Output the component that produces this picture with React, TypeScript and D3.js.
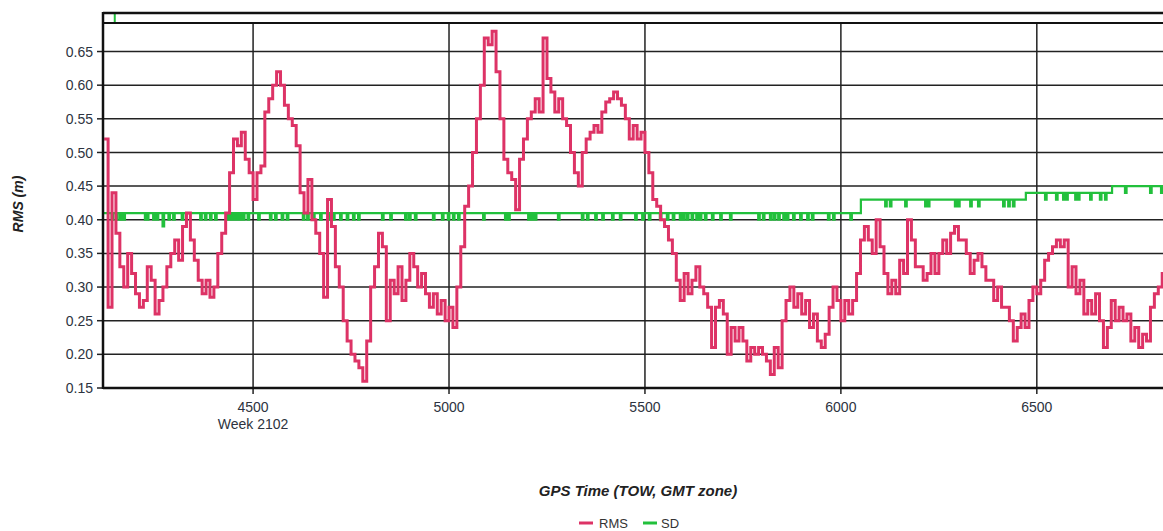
import React from "react";
import * as d3 from "d3";

const W = 1163;
const H = 531;

// ---- data ----
const xTicks = [4500, 5000, 5500, 6000, 6500];
const yTicks = [0.15, 0.2, 0.25, 0.3, 0.35, 0.4, 0.45, 0.5, 0.55, 0.6, 0.65];
const weekLabel = "Week 2102";
const weekTickTow = 4500;

const rmsStartTow = 4120;
const rmsStepTow = 10;
const rmsValues = [
  0.52, 0.27, 0.44, 0.38, 0.33, 0.30, 0.35, 0.32, 0.29, 0.27,
  0.28, 0.33, 0.31, 0.26, 0.28, 0.30, 0.33, 0.35, 0.37, 0.34,
  0.39, 0.41, 0.37, 0.34, 0.31, 0.29, 0.31, 0.285, 0.30, 0.35,
  0.38, 0.41, 0.47, 0.52, 0.51, 0.53, 0.49, 0.47, 0.43, 0.47,
  0.48, 0.56, 0.58, 0.60, 0.62, 0.60, 0.57, 0.55, 0.54, 0.51,
  0.44, 0.41, 0.46, 0.40, 0.38, 0.35, 0.285, 0.43, 0.39, 0.33,
  0.30, 0.25, 0.22, 0.20, 0.19, 0.18, 0.16, 0.22, 0.30, 0.33,
  0.38, 0.36, 0.25, 0.31, 0.29, 0.33, 0.28, 0.31, 0.35, 0.33,
  0.30, 0.32, 0.29, 0.27, 0.29, 0.26, 0.28, 0.25, 0.27, 0.24,
  0.30, 0.36, 0.42, 0.45, 0.50, 0.55, 0.60, 0.67, 0.66, 0.68,
  0.62, 0.55, 0.49, 0.47, 0.46, 0.415, 0.49, 0.52, 0.55, 0.56,
  0.58, 0.56, 0.67, 0.61, 0.59, 0.56, 0.58, 0.55, 0.54, 0.50,
  0.47, 0.45, 0.50, 0.52, 0.53, 0.54, 0.53, 0.56, 0.575, 0.58,
  0.59, 0.58, 0.57, 0.55, 0.52, 0.54, 0.52, 0.53, 0.50, 0.47,
  0.43, 0.42, 0.40, 0.39, 0.37, 0.35, 0.31, 0.28, 0.32, 0.29,
  0.31, 0.33, 0.30, 0.29, 0.27, 0.21, 0.27, 0.28, 0.26, 0.20,
  0.24, 0.22, 0.24, 0.22, 0.19, 0.21, 0.20, 0.21, 0.20, 0.19,
  0.17, 0.21, 0.18, 0.25, 0.28, 0.30, 0.27, 0.29, 0.26, 0.28,
  0.24, 0.26, 0.22, 0.21, 0.23, 0.27, 0.30, 0.28, 0.25, 0.28,
  0.26, 0.28, 0.32, 0.37, 0.39, 0.37, 0.35, 0.40, 0.36, 0.32,
  0.29, 0.31, 0.29, 0.34, 0.32, 0.40, 0.37, 0.33, 0.33, 0.31,
  0.32, 0.35, 0.32, 0.35, 0.37, 0.35, 0.38, 0.39, 0.37, 0.37,
  0.35, 0.32, 0.34, 0.35, 0.33, 0.31, 0.31, 0.28, 0.30, 0.27,
  0.27, 0.25, 0.22, 0.24, 0.26, 0.24, 0.28, 0.30, 0.29, 0.31,
  0.34, 0.35, 0.36, 0.37, 0.36, 0.37, 0.30, 0.33, 0.29, 0.31,
  0.26, 0.28, 0.26, 0.29, 0.25, 0.21, 0.24, 0.28, 0.25, 0.27,
  0.25, 0.26, 0.22, 0.24, 0.21, 0.23, 0.22, 0.27, 0.29, 0.30,
  0.32, 0.31,
];

// SD: base levels (step changes) and short dips
const sdLevelTow = [4117, 6051, 6472, 6692];
const sdLevelVal = [0.41, 0.43, 0.44, 0.45];
const sdDips: [number, number][] = [
  [4139, 0.40], [4150, 0.40], [4160, 0.40], [4169, 0.40], [4224, 0.40], [4229, 0.40],
  [4245, 0.40], [4254, 0.40], [4269, 0.39], [4284, 0.40], [4296, 0.40], [4318, 0.40],
  [4365, 0.40], [4377, 0.40], [4390, 0.40], [4403, 0.40], [4433, 0.40], [4440, 0.40],
  [4449, 0.40], [4456, 0.40], [4465, 0.40], [4474, 0.40], [4486, 0.40], [4513, 0.40],
  [4543, 0.40], [4556, 0.40], [4573, 0.40], [4586, 0.40], [4627, 0.40], [4638, 0.40],
  [4653, 0.40], [4671, 0.40], [4696, 0.40], [4704, 0.40], [4722, 0.40], [4739, 0.40],
  [4755, 0.40], [4768, 0.40], [4829, 0.40], [4850, 0.40], [4888, 0.40], [4898, 0.40],
  [4913, 0.40], [4959, 0.40], [4982, 0.40], [4997, 0.40], [5010, 0.40], [5023, 0.40],
  [5087, 0.40], [5143, 0.40], [5151, 0.40], [5202, 0.40], [5210, 0.40], [5219, 0.40],
  [5278, 0.40], [5339, 0.40], [5352, 0.40], [5373, 0.40], [5391, 0.40], [5416, 0.40],
  [5436, 0.40], [5475, 0.40], [5493, 0.40], [5510, 0.40], [5538, 0.40], [5556, 0.40],
  [5571, 0.40], [5589, 0.40], [5597, 0.40], [5607, 0.40], [5619, 0.40], [5631, 0.40],
  [5640, 0.40], [5653, 0.40], [5671, 0.40], [5692, 0.40], [5717, 0.40], [5789, 0.40],
  [5801, 0.40], [5819, 0.40], [5829, 0.40], [5840, 0.40], [5853, 0.40], [5862, 0.40],
  [5878, 0.40], [5896, 0.40], [5914, 0.40], [5926, 0.40], [5967, 0.40], [5980, 0.40],
  [6024, 0.40],
  [6113, 0.42], [6125, 0.42], [6164, 0.42], [6215, 0.42], [6222, 0.42], [6291, 0.42],
  [6299, 0.42], [6330, 0.42], [6350, 0.42], [6414, 0.42], [6427, 0.42], [6439, 0.42],
  [6521, 0.43], [6549, 0.43], [6567, 0.43], [6575, 0.43], [6598, 0.43], [6605, 0.43],
  [6636, 0.43], [6661, 0.43], [6674, 0.43],
  [6725, 0.44], [6789, 0.44], [6817, 0.44],
];
const sdDipWidth = 4;
const sdOutlierTow = 4147;

const seriesNames = ["RMS", "SD"];
const seriesColors = ["#dd3366", "#22c03c"];

// ---- layout ----
const plotLeft = 103;
const plotRight = 1163;
const plotTop = 23;
const frameTop = 13;
const plotBottom = 388;

const font = "Arial, 'Liberation Sans', Helvetica, sans-serif";

export default function App() {
  const x = d3.scaleLinear().domain([4117, 6822]).range([plotLeft, plotRight]);
  const y = d3.scaleLinear().domain([0.15, 0.6924]).range([plotBottom, plotTop]);

  const rmsPts: [number, number][] = rmsValues.map((v, i) => [rmsStartTow + i * rmsStepTow, v]);

  const levelAt = (t: number) => {
    let v = sdLevelVal[0];
    for (let k = 0; k < sdLevelTow.length; k++) if (t >= sdLevelTow[k]) v = sdLevelVal[k];
    return v;
  };
  const events: [number, number][] = [];
  sdLevelTow.forEach((t, k) => events.push([t, sdLevelVal[k]]));
  sdDips.forEach(([t, v]) => {
    events.push([t, v]);
    events.push([t + sdDipWidth, levelAt(t + sdDipWidth)]);
  });
  events.sort((a, b) => a[0] - b[0]);
  const sdPts: [number, number][] = [...events, [6830, levelAt(6830)]];

  const line = d3
    .line<[number, number]>()
    .x((d) => x(d[0]))
    .y((d) => y(d[1]))
    .curve(d3.curveStepAfter);

  const rmsPath = line(rmsPts) || "";
  const sdPath = line(sdPts) || "";

  return (
    <svg
      width={W}
      height={H}
      style={{ position: "absolute", left: 0, top: 0, background: "#fff" }}
      fontFamily={font}
    >
      <defs>
        <clipPath id="plotClip">
          <rect x={plotLeft} y={plotTop} width={plotRight - plotLeft} height={plotBottom - plotTop} />
        </clipPath>
      </defs>

      {/* horizontal grid */}
      {yTicks.map((t) => (
        <g key={"y" + t}>
          <line x1={plotLeft} x2={plotRight} y1={y(t)} y2={y(t)} stroke="#222" strokeWidth={1.5} />
          <line x1={plotLeft - 6} x2={plotLeft} y1={y(t)} y2={y(t)} stroke="#222" strokeWidth={1.5} />
          <text x={93} y={y(t)} dy="0.36em" textAnchor="end" fontSize={14} fill="#2d3340">
            {t.toFixed(2)}
          </text>
        </g>
      ))}

      {/* vertical grid */}
      {xTicks.map((t) => (
        <g key={"x" + t}>
          <line x1={x(t)} x2={x(t)} y1={plotTop} y2={plotBottom + 6} stroke="#222" strokeWidth={1.5} />
          <text x={x(t)} y={412} textAnchor="middle" fontSize={14} fill="#2d3340">
            {t}
          </text>
        </g>
      ))}
      <text x={x(weekTickTow)} y={429} textAnchor="middle" fontSize={14} fill="#2d3340">
        {weekLabel}
      </text>

      {/* series */}
      <g clipPath="url(#plotClip)">
        <path d={sdPath} fill="none" stroke={seriesColors[1]} strokeWidth={2.2} />
        <path d={rmsPath} fill="none" stroke={seriesColors[0]} strokeWidth={3} strokeLinejoin="miter" />
      </g>
      <line
        x1={x(sdOutlierTow)}
        x2={x(sdOutlierTow)}
        y1={frameTop + 1}
        y2={plotTop - 1}
        stroke={seriesColors[1]}
        strokeWidth={2}
      />

      {/* frame */}
      <line x1={plotLeft} x2={plotRight} y1={frameTop} y2={frameTop} stroke="#111" strokeWidth={2.5} />
      <line x1={plotLeft} x2={plotRight} y1={plotTop} y2={plotTop} stroke="#111" strokeWidth={2} />
      <line x1={plotLeft} x2={plotLeft} y1={frameTop - 1} y2={plotBottom + 1} stroke="#111" strokeWidth={2.5} />
      <line x1={plotLeft} x2={plotRight} y1={plotBottom} y2={plotBottom} stroke="#111" strokeWidth={2.5} />

      {/* axis titles */}
      <text
        transform={`translate(23,204) rotate(-90)`}
        textAnchor="middle"
        fontSize={14}
        fontWeight="bold"
        fontStyle="italic"
        fill="#222"
      >
        RMS (m)
      </text>
      <text x={638} y={496} textAnchor="middle" fontSize={15} fontWeight="bold" fontStyle="italic" fill="#222">
        GPS Time (TOW, GMT zone)
      </text>

      {/* legend */}
      <g>
        <line x1={579} x2={593} y1={523} y2={523} stroke={seriesColors[0]} strokeWidth={3} />
        <text x={599} y={528} fontSize={13} fill="#333">
          {seriesNames[0]}
        </text>
        <line x1={643} x2={657} y1={523} y2={523} stroke={seriesColors[1]} strokeWidth={3} />
        <text x={661} y={528} fontSize={13} fill="#333">
          {seriesNames[1]}
        </text>
      </g>
    </svg>
  );
}
